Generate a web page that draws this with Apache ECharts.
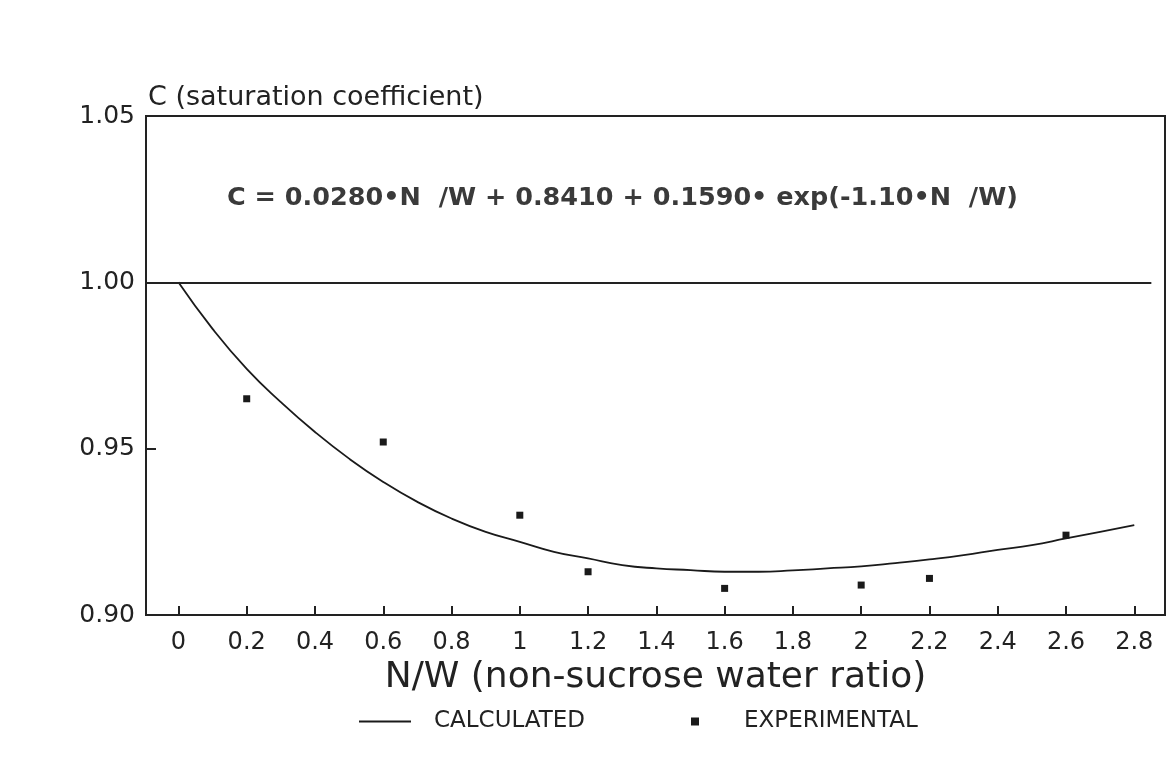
<!DOCTYPE html>
<html>
<head>
<meta charset="utf-8">
<script src="https://cdn.jsdelivr.net/npm/echarts@6/dist/echarts.min.js"></script>
<style>
    html, body { margin: 0; padding: 0; background: #fff; }
    #chart { width: 1171px; height: 763px; }
</style>
</head>
<body>
<div id="chart"></div>
<script>
// calculated curve, every 0.1
var calcX = [0, 0.1, 0.2, 0.3, 0.4, 0.5, 0.6, 0.7, 0.8, 0.9, 1.0, 1.1, 1.2, 1.3, 1.4,
    1.5, 1.6, 1.7, 1.8, 1.9, 2.0, 2.1, 2.2, 2.3, 2.4, 2.5, 2.6, 2.7, 2.8];
var calcY = [1.000, 0.986, 0.974, 0.964, 0.955, 0.947, 0.940, 0.934, 0.929, 0.925, 0.922,
    0.919, 0.917, 0.915, 0.914, 0.9135, 0.913, 0.913, 0.9134, 0.914, 0.9146, 0.9156,
    0.9167, 0.918, 0.9196, 0.921, 0.923, 0.925, 0.927];

// experimental points
var expX = [0.2, 0.6, 1.0, 1.2, 1.6, 2.0, 2.2, 2.6];
var expY = [0.965, 0.952, 0.930, 0.913, 0.908, 0.909, 0.911, 0.924];

var xTicks = [0, 0.2, 0.4, 0.6, 0.8, 1, 1.2, 1.4, 1.6, 1.8, 2, 2.2, 2.4, 2.6, 2.8];
var yTicks = [0.90, 0.95, 1.00, 1.05];

var chart = echarts.init(document.getElementById("chart"));
var font = "DejaVu Sans";

var calcData = calcX.map(function (x, i) { return [x, calcY[i]]; });
var expData = expX.map(function (x, i) { return [x, expY[i]]; });

var option = {
    backgroundColor: "#fff",
    animation: false,
    textStyle: { fontFamily: font, color: "#222" },
    grid: {
        show: true,
        left: 146,
        right: 6,
        top: 116,
        bottom: 148,
        borderColor: "#222",
        borderWidth: 2
    },
    title: [
        {
            text: "C (saturation coefficient)",
            left: 143,
            top: 79,
            textStyle: { fontFamily: font, fontSize: 27, fontWeight: "normal", color: "#222" }
        },
        {
            text: "C = 0.0280\u2022N  /W + 0.8410 + 0.1590\u2022 exp(-1.10\u2022N  /W)",
            left: 222,
            top: 180,
            textStyle: { fontFamily: font, fontSize: 25.5, fontWeight: "bold", color: "#3a3a3a" }
        }
    ],
    legend: [
        {
            data: [{ name: "CALCULATED", icon: "rect" }],
            left: 354,
            top: 705,
            itemWidth: 52,
            itemHeight: 2,
            textStyle: { fontFamily: font, fontSize: 23, color: "#222", padding: [0, 0, 0, 18] }
        },
        {
            data: ["EXPERIMENTAL"],
            left: 686,
            top: 705,
            itemWidth: 8,
            itemHeight: 8,
            textStyle: { fontFamily: font, fontSize: 23, color: "#222", padding: [0, 0, 0, 40] }
        }
    ],
    xAxis: {
        type: "value",
        min: -0.095,
        max: 2.89,
        name: "N/W (non-sucrose water ratio)",
        nameLocation: "middle",
        nameGap: 43,
        nameTextStyle: { fontFamily: font, fontSize: 36, color: "#222" },
        axisLine: { onZero: false, lineStyle: { color: "#222", width: 2 } },
        axisTick: {
            inside: true,
            length: 9,
            customValues: xTicks,
            lineStyle: { color: "#222", width: 2 }
        },
        axisLabel: {
            customValues: xTicks,
            margin: 16,
            fontFamily: font,
            fontSize: 24,
            color: "#222"
        },
        splitLine: { show: false }
    },
    yAxis: {
        type: "value",
        min: 0.90,
        max: 1.05,
        axisLine: { onZero: false, lineStyle: { color: "#222", width: 2 } },
        axisTick: {
            inside: true,
            length: 10,
            customValues: yTicks,
            lineStyle: { color: "#222", width: 2 }
        },
        axisLabel: {
            customValues: yTicks,
            margin: 11,
            fontFamily: font,
            fontSize: 25,
            color: "#222",
            formatter: function (v) { return v.toFixed(2); }
        },
        splitLine: { show: false }
    },
    series: [
        {
            name: "CALCULATED",
            type: "line",
            smooth: true,
            symbol: "none",
            lineStyle: { color: "#1a1a1a", width: 1.8 },
            itemStyle: { color: "#1a1a1a" },
            data: calcData,
            markLine: {
                silent: true,
                symbol: "none",
                label: { show: false },
                lineStyle: { color: "#222", width: 2, type: "solid" },
                data: [[{ coord: [-0.095, 1.0] }, { coord: [2.85, 1.0] }]]
            }
        },
        {
            name: "EXPERIMENTAL",
            type: "scatter",
            symbol: "rect",
            symbolSize: 7,
            itemStyle: { color: "#1a1a1a", opacity: 1 },
            data: expData
        }
    ]
};

chart.setOption(option);
window.addEventListener("resize", function () {
    chart.resize();
});
</script>
</body>
</html>
